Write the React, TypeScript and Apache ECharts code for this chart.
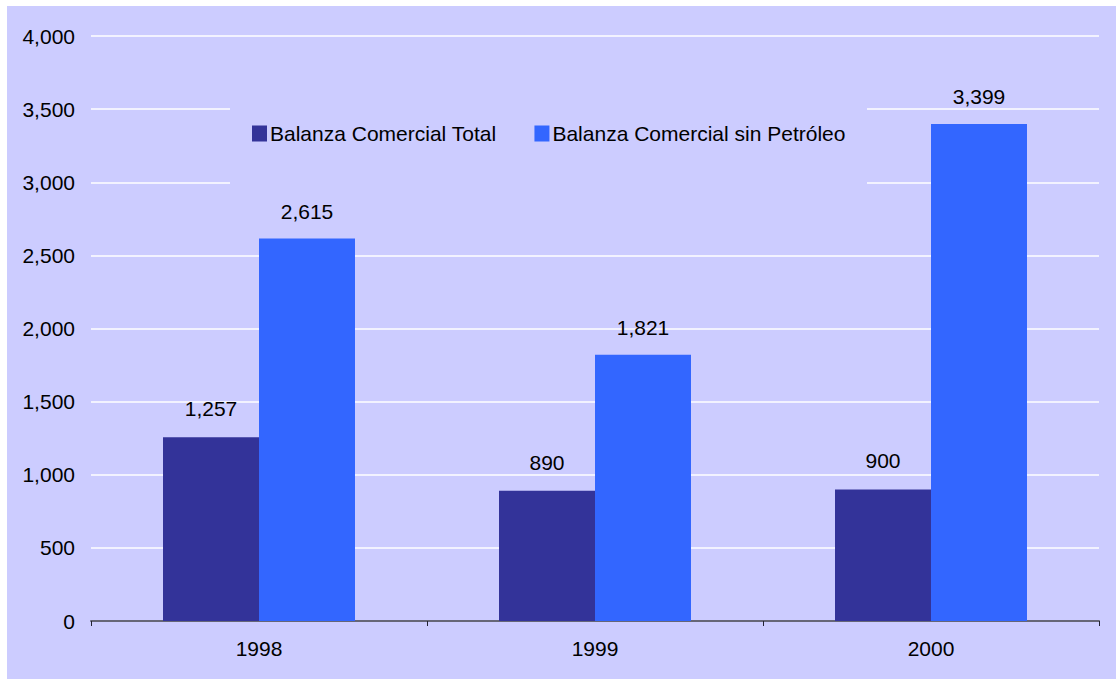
import React, { useEffect, useRef } from "react";
import * as echarts from "echarts";

const categories = ["1998", "1999", "2000"];
const totalValues = [1257, 890, 900];
const sinPetroleoValues = [2615, 1821, 3399];
const seriesNames = ["Balanza Comercial Total", "Balanza Comercial sin Petróleo"];

const fmt = (v: number) => v.toLocaleString("en-US");
const FONT = "Liberation Sans, Arial, sans-serif";

export default function App() {
  const ref = useRef<HTMLDivElement>(null);
  useEffect(() => {
    if (!ref.current) return;
    const chart = echarts.init(ref.current, undefined, { renderer: "svg" });
    chart.setOption({
      animation: false,
      backgroundColor: "#ffffff",
      textStyle: { fontFamily: FONT },
      graphic: [
        { type: "rect", z: -10, shape: { x: 7, y: 6, width: 1109, height: 673 }, style: { fill: "#CCCCFF" } },
        { type: "rect", z: 1, shape: { x: 230, y: 92, width: 637, height: 100 }, style: { fill: "#CCCCFF" } },
      ],
      legend: {
        left: 247,
        top: 118,
        itemWidth: 15,
        itemHeight: 16,
        itemGap: 38,
        icon: "rect",
        z: 5,
        textStyle: { fontSize: 21, color: "#000", fontFamily: FONT, padding: [0, 0, 0, -2] },
        data: seriesNames,
      },
      grid: { left: 91, right: 17, top: 36, bottom: 58, containLabel: false },
      xAxis: {
        type: "category",
        data: categories,
        axisLine: { lineStyle: { color: "#666677", width: 2 } },
        axisTick: { show: true, length: 5, lineStyle: { color: "#222233" } },
        axisLabel: { fontSize: 21, color: "#000", margin: 17, fontFamily: FONT },
      },
      yAxis: {
        type: "value",
        min: 0,
        max: 4000,
        interval: 500,
        axisLine: { show: false },
        axisTick: { show: false },
        splitLine: { lineStyle: { color: "#ffffff", width: 1.5 } },
        axisLabel: { fontSize: 21, color: "#000", margin: 16, fontFamily: FONT, formatter: (v: number) => fmt(v) },
      },
      series: [
        {
          name: seriesNames[0],
          type: "bar",
          data: totalValues,
          barWidth: 96,
          barGap: "0%",
          z: 3,
          itemStyle: { color: "#333399" },
          label: { show: true, position: "top", distance: 18, fontSize: 21, color: "#000", fontFamily: FONT, formatter: (p: any) => fmt(p.value) },
        },
        {
          name: seriesNames[1],
          type: "bar",
          data: sinPetroleoValues,
          barWidth: 96,
          barGap: "0%",
          z: 3,
          itemStyle: { color: "#3366FF" },
          label: { show: true, position: "top", distance: 17, fontSize: 21, color: "#000", fontFamily: FONT, formatter: (p: any) => fmt(p.value) },
        },
      ],
    });
    return () => chart.dispose();
  }, []);
  return <div ref={ref} style={{ position: "fixed", left: 0, top: 0, width: 1116, height: 679 }} />;
}
